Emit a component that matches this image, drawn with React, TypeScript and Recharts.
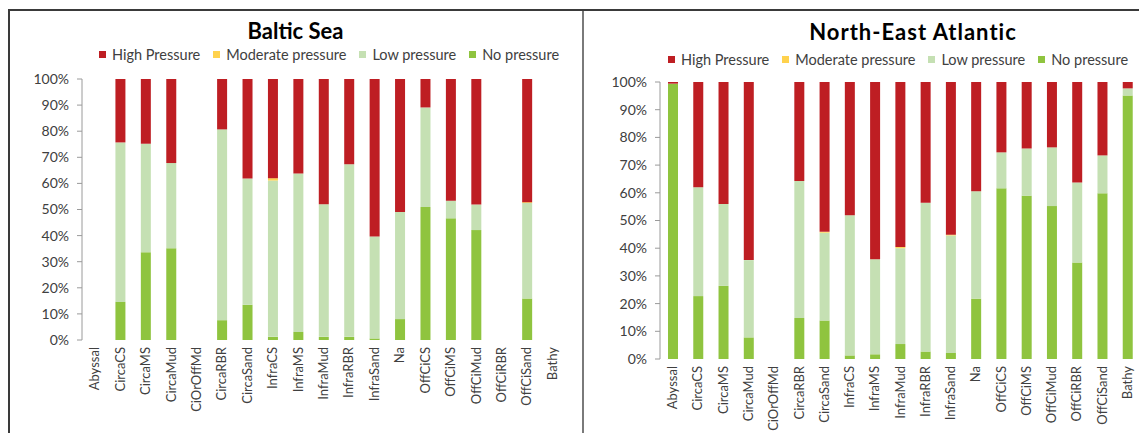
import { BarChart, Bar, XAxis, YAxis } from 'recharts';

const categories = ['Abyssal', 'CircaCS', 'CircaMS', 'CircaMud', 'CiOrOffMd', 'CircaRBR', 'CircaSand', 'InfraCS', 'InfraMS', 'InfraMud', 'InfraRBR', 'InfraSand', 'Na', 'OffCiCS', 'OffCiMS', 'OffCiMud', 'OffCiRBR', 'OffCiSand', 'Bathy'];

const balticNo = [0, 14.6, 33.6, 35.2, 0, 7.6, 13.5, 1.2, 3.1, 1.2, 1.2, 0.6, 8.0, 51.0, 46.6, 42.1, 0, 15.9, 0];
const balticLow = [0, 61.1, 41.6, 32.6, 0, 73.1, 48.4, 59.9, 60.7, 50.8, 66.1, 39.1, 41.0, 38.1, 6.8, 9.8, 0, 36.6, 0];
const balticModerate = [0, 0, 0, 0, 0, 0, 0, 0.9, 0, 0, 0, 0, 0, 0, 0, 0, 0, 0.3, 0];
const balticHigh = [0, 24.3, 24.8, 32.2, 0, 19.3, 38.1, 38.0, 36.2, 48.0, 32.7, 60.3, 51.0, 10.9, 46.6, 48.1, 0, 47.2, 0];

const neaNo = [99.4, 22.7, 26.4, 7.8, 0, 14.8, 13.9, 1.3, 1.7, 5.4, 2.7, 2.2, 21.8, 61.6, 58.9, 55.2, 34.8, 59.8, 95.1];
const neaLow = [0, 39.3, 29.6, 27.9, 0, 49.5, 31.7, 50.6, 34.3, 34.6, 53.7, 42.4, 38.8, 13.0, 17.1, 21.2, 28.9, 13.7, 2.6];
const neaModerate = [0, 0, 0, 0, 0, 0, 0.3, 0, 0, 0.4, 0, 0.3, 0, 0, 0, 0, 0, 0, 0];
const neaHigh = [0.6, 38.0, 44.0, 64.3, 0, 35.7, 54.1, 48.1, 64.0, 59.6, 43.6, 55.1, 39.4, 25.4, 24.0, 23.6, 36.3, 26.5, 2.3];

const yTicks = [0, 10, 20, 30, 40, 50, 60, 70, 80, 90, 100];
const boundaryTicks = categories.map((_, i) => i).concat([categories.length]);

const series = [
  { key: 'no', name: 'No pressure', color: '#8FC43F' },
  { key: 'low', name: 'Low pressure', color: '#C5E0B3' },
  { key: 'moderate', name: 'Moderate pressure', color: '#FFD24D' },
  { key: 'high', name: 'High Pressure', color: '#BE1E23' },
];
const legendOrder = ['high', 'moderate', 'low', 'no'];

const FONT = 'Lato, "Open Sans", sans-serif';
const AXIS = '#9A9A9A';
const TEXT = '#404040';

function buildRows(no: number[], low: number[], moderate: number[], high: number[]) {
  return categories.map((name, i) => ({ name, no: no[i], low: low[i], moderate: moderate[i], high: high[i] }));
}

function CategoryTick(props: any) {
  const { x, y, payload } = props;
  return (
    <g transform={`translate(${x},${y + 2})`}>
      <text transform="rotate(-90)" textAnchor="end" dy="0.35em" fontSize={13} fill={TEXT} fontFamily={FONT}>
        {payload.value}
      </text>
    </g>
  );
}

function LegendRow({ left, top, gap }: { left: number; top: number; gap: number }) {
  return (
    <div style={{ position: 'absolute', left, top, display: 'flex', alignItems: 'center', fontSize: 14.5, color: TEXT, whiteSpace: 'nowrap' }}>
      {legendOrder.map((k) => {
        const s = series.find((d) => d.key === k)!;
        return (
          <div key={k} style={{ display: 'flex', alignItems: 'center', marginRight: gap }}>
            <span style={{ width: 7, height: 7, background: s.color, marginRight: 6, display: 'inline-block' }} />
            <span>{s.name}</span>
          </div>
        );
      })}
    </div>
  );
}

interface PanelProps {
  rows: any[];
  width: number;
  height: number;
  margin: { top: number; right: number; left: number; bottom: number };
}

function Panel({ rows, width, height, margin }: PanelProps) {
  return (
    <BarChart width={width} height={height} data={rows} margin={margin}>
      <XAxis
        xAxisId="b"
        type="number"
        domain={[0, categories.length]}
        ticks={boundaryTicks}
        allowDataOverflow
        height={0}
        stroke={AXIS}
        tickSize={5}
        tickFormatter={() => ''}
      />
      <XAxis
        xAxisId="c"
        dataKey="name"
        interval={0}
        height={80}
        axisLine={false}
        tickLine={false}
        tickSize={0}
        tickMargin={5}
        tick={<CategoryTick />}
      />
      <YAxis
        domain={[0, 100]}
        ticks={yTicks}
        width={50}
        stroke={AXIS}
        tickSize={5}
        tickMargin={8}
        tickFormatter={(v) => `${v}%`}
        tick={{ fontSize: 14, fill: TEXT, fontFamily: FONT }}
      />
      {series.map((s) => (
        <Bar key={s.key} xAxisId="c" dataKey={s.key} name={s.name} stackId="p" fill={s.color} barSize={10} isAnimationActive={false} />
      ))}
    </BarChart>
  );
}

export default function App() {
  const baltic = buildRows(balticNo, balticLow, balticModerate, balticHigh);
  const nea = buildRows(neaNo, neaLow, neaModerate, neaHigh);
  return (
    <div style={{ position: 'relative', width: 1147, height: 441, margin: -8, overflow: 'hidden', background: '#fff', fontFamily: FONT }}>
      <div style={{ position: 'absolute', left: 8, top: 10 }}>
        <Panel rows={baltic} width={575} height={431} margin={{ top: 69, right: 18, left: 24, bottom: 21 }} />
      </div>
      <div style={{ position: 'absolute', left: 583, top: 10 }}>
        <Panel rows={nea} width={564} height={431} margin={{ top: 72, right: 7, left: 27, bottom: 2 }} />
      </div>

      <div style={{ position: 'absolute', left: 8, width: 575, top: 17, textAlign: 'center', fontSize: 22, fontWeight: 700, color: '#000' }}>
        Baltic Sea
      </div>
      <div style={{ position: 'absolute', left: 763, width: 300, top: 18, textAlign: 'center', fontSize: 22, fontWeight: 700, color: '#000', whiteSpace: 'nowrap', letterSpacing: 1 }}>
        North-East Atlantic
      </div>
      <LegendRow left={99} top={46} gap={13} />
      <LegendRow left={668} top={51} gap={13} />

      <div style={{ position: 'absolute', left: 8, top: 9, width: 1139, height: 2, background: '#3A3A3A' }} />
      <div style={{ position: 'absolute', left: 8, top: 9, width: 2, height: 432, background: '#3A3A3A' }} />
      <div style={{ position: 'absolute', left: 582, top: 11, width: 2, height: 430, background: '#7A7A7A' }} />
    </div>
  );
}
